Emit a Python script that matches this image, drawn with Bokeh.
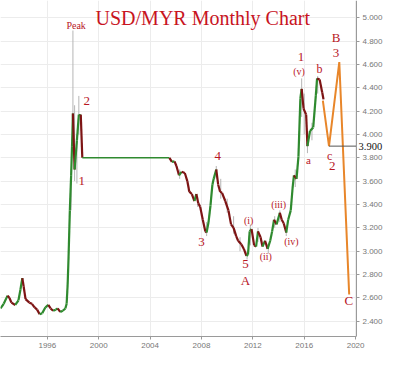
from bokeh.plotting import figure
from bokeh.models import Range1d, FixedTicker, NumeralTickFormatter, Label, ColumnDataSource
from bokeh.embed import file_html
from bokeh.resources import INLINE

# ---- data ----
years = [1992.35, 1992.6, 1992.9, 1993.05, 1993.2, 1993.5, 1993.75, 1993.9, 1994.05, 1994.15,
         1994.3, 1994.6, 1994.8, 1995.0, 1995.2, 1995.4, 1995.6, 1995.85, 1996.07, 1996.25,
         1996.45, 1996.65, 1996.8, 1997.0, 1997.2, 1997.4, 1997.5, 1997.58, 1997.65, 1997.75,
         1997.85, 1997.92, 1997.99, 1998.12, 1998.3, 1998.45, 1998.6, 1998.72, 2005.5,
         2005.7, 2005.9, 2006.05, 2006.25, 2006.45, 2006.7, 2006.9, 2007.05, 2007.25, 2007.45,
         2007.6, 2007.75, 2007.9, 2008.1, 2008.3, 2008.4, 2008.55, 2008.7, 2008.85, 2008.95,
         2009.15, 2009.3, 2009.45, 2009.6, 2009.85, 2010.1, 2010.3, 2010.5, 2010.7, 2010.85,
         2011.1, 2011.3, 2011.5, 2011.62, 2011.75, 2011.9, 2012.1, 2012.25, 2012.4, 2012.6,
         2012.75, 2012.95, 2013.15, 2013.35, 2013.5, 2013.65, 2013.85, 2014.1, 2014.25, 2014.4,
         2014.6, 2014.75, 2014.95, 2015.1, 2015.2, 2015.4, 2015.55, 2015.7, 2015.8, 2015.95,
         2016.15, 2016.25, 2016.45, 2016.7, 2016.9, 2017.0, 2017.2, 2017.4, 2017.5]
closes = [2.51, 2.55, 2.62, 2.60, 2.56, 2.54, 2.58, 2.67, 2.77, 2.70,
          2.59, 2.56, 2.55, 2.52, 2.50, 2.46, 2.47, 2.52, 2.54, 2.51,
          2.49, 2.50, 2.51, 2.48, 2.49, 2.51, 2.55, 2.72, 2.95, 3.35,
          3.65, 3.90, 4.18, 3.70, 3.95, 4.17, 4.17, 3.80, 3.80,
          3.765, 3.77, 3.73, 3.65, 3.68, 3.67, 3.60, 3.51, 3.49, 3.43,
          3.49, 3.41, 3.38, 3.27, 3.17, 3.16, 3.25, 3.39, 3.57, 3.62,
          3.70, 3.57, 3.51, 3.50, 3.43, 3.35, 3.23, 3.20, 3.13, 3.09,
          3.06, 3.02, 2.96, 2.97, 3.17, 3.19, 3.05, 3.04, 3.17, 3.12,
          3.04, 3.09, 3.02, 3.09, 3.17, 3.27, 3.23, 3.33, 3.27, 3.24,
          3.16, 3.27, 3.35, 3.55, 3.65, 3.62, 3.81, 4.31, 4.39, 4.22,
          4.17, 3.90, 4.03, 4.06, 4.33, 4.48, 4.47, 4.36, 4.30]

wick_years = [1997.85, 1997.99, 1998.12, 1998.3, 1998.45, 2006.3, 2007.7, 2008.4, 2009.15, 2009.5,
              2010.0, 2010.5, 2011.0, 2011.55, 2011.8, 2012.4, 2013.2, 2013.7, 2014.1, 2014.6,
              2015.3, 2015.8, 2016.0, 2016.25, 2016.6, 2017.05]
wick_lows = [3.35, 3.90, 3.60, 3.58, 4.00, 3.62, 3.38, 3.13, 3.62, 3.45,
             3.33, 3.15, 3.00, 2.93, 3.05, 3.08, 2.98, 3.20, 3.25, 3.13,
             3.55, 4.15, 4.00, 3.84, 3.95, 4.35]
wick_highs = [3.70, 4.89, 4.25, 4.00, 4.33, 3.70, 3.47, 3.25, 3.73, 3.62,
              3.45, 3.30, 3.12, 3.00, 3.23, 3.20, 3.06, 3.30, 3.35, 3.20,
              3.70, 4.48, 4.35, 4.00, 4.10, 4.50]

proj_years = [2017.45, 2017.93, 2018.73, 2019.5]
proj_values = [4.29, 3.90, 4.62, 2.63]

target_level = 3.90

wave_texts = ["Peak", "2", "1", "4", "3", "5", "A", "(i)", "(ii)", "(iii)", "(iv)",
              "1", "(v)", "b", "a", "c", "2", "B", "3", "C"]
wave_x = [1998.24, 1999.06, 1998.68, 2009.26, 2008.0, 2011.42, 2011.42, 2011.67, 2013.01, 2014.01,
          2015.0, 2015.75, 2015.6, 2017.19, 2016.32, 2017.98, 2018.18, 2018.48, 2018.48, 2019.47]
wave_y = [4.935, 4.29, 3.60, 3.816, 3.08, 2.89, 2.75, 3.264, 2.957, 3.40,
          3.084, 4.663, 4.543, 4.562, 3.778, 3.814, 3.732, 4.826, 4.698, 2.576]
wave_sizes = [10, 13, 13, 13, 13, 13, 13, 10, 10, 10,
              10, 13, 10, 12, 11, 12, 13, 13, 13, 13]

x_ticks = [1996, 2000, 2004, 2008, 2012, 2016, 2020]
y_ticks = [2.4, 2.6, 2.8, 3.0, 3.2, 3.4, 3.6, 3.8, 4.0, 4.2, 4.4, 4.6, 4.8, 5.0]

X_START, X_AXIS, X_END = 1992.35, 2020.07, 2022.25

GREEN = "#2f8a2f"
RED = "#7d1414"
LABEL_RED = "#b8161f"

p = figure(width=384, height=350, output_backend="svg", toolbar_location=None,
           x_range=Range1d(X_START, X_END), y_range=Range1d(2.27, 5.147),
           y_axis_location="right", min_border=0)
p.outline_line_color = None
p.background_fill_color = "white"

# axes
for ax in (p.xaxis[0], p.yaxis[0]):
    ax.axis_line_color = "#9a9a9a"
    ax.major_tick_line_color = "#9a9a9a"
    ax.minor_tick_line_color = None
    ax.major_tick_in = 0
    ax.major_tick_out = 3
    ax.major_label_text_font = "Liberation Sans"
    ax.major_label_text_font_size = "8px"
    ax.major_label_text_color = "#777777"
    ax.major_label_standoff = 3
p.xaxis.ticker = FixedTicker(ticks=x_ticks)
p.xaxis.bounds = (X_START, X_AXIS)
p.yaxis.ticker = FixedTicker(ticks=y_ticks)
p.yaxis.formatter = NumeralTickFormatter(format="0.000")
p.yaxis.fixed_location = X_AXIS
p.xgrid.grid_line_color = "#ececec"
p.ygrid.grid_line_color = "#ececec"
p.ygrid.cross_bounds = (X_START, X_AXIS)

# wicks
p.segment(x0=wick_years, y0=wick_lows, x1=wick_years, y1=wick_highs,
          line_color="#b5b5b5", line_width=1)

# price path
seg_colors = [GREEN if b >= a else RED for a, b in zip(closes[:-1], closes[1:])]
seg_widths = [1.4 if b == a else 2.2 for a, b in zip(closes[:-1], closes[1:])]
src = ColumnDataSource(dict(x0=years[:-1], y0=closes[:-1], x1=years[1:], y1=closes[1:],
                            c=seg_colors, w=seg_widths))
p.segment(x0="x0", y0="y0", x1="x1", y1="y1", line_color="c", line_width="w", source=src)

# projection
p.line(proj_years, proj_values, line_color="#e8862a", line_width=2)
p.segment(x0=[proj_years[1]], y0=[target_level], x1=[X_AXIS], y1=[target_level],
          line_color="#555555", line_width=1)

p.add_layout(Label(x=X_AXIS, y=target_level, x_offset=2, text="3.900", text_font="Liberation Serif",
                   text_font_size="10.5px", text_color="#111111", text_baseline="middle",
                   text_align="left"))

# title
p.add_layout(Label(x=2008.1, y=5.0, text="USD/MYR Monthly Chart", text_font="Liberation Serif",
                   text_font_size="20px", text_color="#c8141e", text_align="center",
                   text_baseline="middle"))

for t, x, y, s in zip(wave_texts, wave_x, wave_y, wave_sizes):
    p.add_layout(Label(x=x, y=y, text=t, text_font="Liberation Serif", text_font_size=f"{s}px",
                       text_color=LABEL_RED, text_align="center", text_baseline="middle"))

open("out.html", "w").write(file_html(p, INLINE))
